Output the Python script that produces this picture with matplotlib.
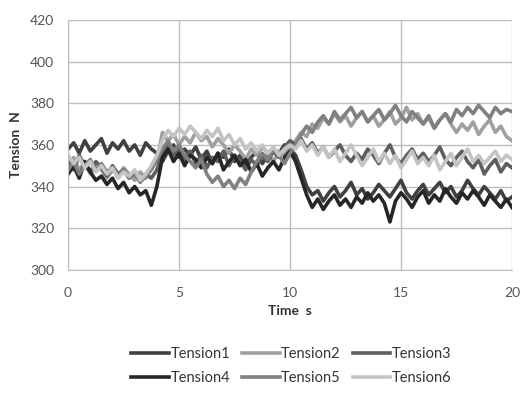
import numpy as np
import matplotlib.pyplot as plt

plt.rcParams['font.family'] = ['Lato', 'DejaVu Sans']

# time axis, 0.25 s steps
t = np.arange(0, 20.01, 0.25)

tension1 = [358, 361, 356, 362, 357, 360, 363, 356, 361, 358, 362, 357, 360, 355, 361, 358, 356,
            352, 357, 360, 354, 358, 355, 359, 353, 357, 351, 356, 354, 358, 352, 355, 350, 354, 357, 351, 355, 358, 356, 360, 358,
            355, 348, 340, 336, 338, 333, 337, 340, 335, 338, 342, 336, 339, 334, 337, 341, 338, 335, 339, 343,
            337, 334, 338, 341, 336, 339, 342, 337, 340, 335, 338, 343, 339, 336, 340, 337, 334, 338, 333, 335]
tension2 = [350, 354, 348, 352, 346, 350, 348, 344, 348, 345, 349, 346, 343, 347, 344, 349, 352,
            366, 362, 365, 360, 364, 361, 366, 362, 364, 359, 363, 360, 356, 360, 357, 353, 358, 355, 359, 356, 352, 357, 355, 359,
            362, 366, 364, 370, 368, 373, 370, 375, 371, 374, 369, 373, 376, 371, 374, 369, 372, 376, 370, 373,
            378, 372, 375, 370, 373, 368, 372, 375, 370, 366, 370, 367, 371, 365, 369, 372, 366, 369, 364, 362]
tension3 = [352, 348, 355, 350, 347, 352, 349, 345, 350, 346, 348, 344, 347, 343, 346, 344, 348,
            356, 360, 355, 358, 353, 357, 351, 355, 349, 354, 352, 357, 350, 355, 352, 348, 353, 350, 355, 352, 357, 354, 359, 362,
            360, 363, 358, 361, 356, 359, 354, 357, 360, 355, 352, 356, 353, 358, 355, 351, 356, 360, 354, 351,
            355, 358, 353, 356, 352, 355, 359, 353, 350, 354, 357, 352, 349, 353, 346, 350, 353, 347, 351, 349]
tension4 = [346, 350, 344, 352, 347, 343, 345, 341, 344, 339, 342, 337, 340, 336, 338, 331, 340,
            354, 358, 352, 356, 350, 355, 353, 349, 354, 351, 356, 348, 352, 355, 350, 353, 347, 351, 345, 349, 352, 348, 354, 357,
            352, 344, 336, 330, 334, 329, 333, 336, 331, 334, 330, 335, 332, 337, 333, 336, 332, 323, 333, 337,
            334, 330, 335, 338, 332, 336, 333, 339, 335, 332, 337, 334, 338, 335, 331, 336, 333, 330, 334, 330]
tension5 = [348, 352, 346, 350, 353, 348, 351, 347, 349, 345, 348, 344, 346, 342, 345, 348, 353,
            358, 362, 357, 360, 355, 352, 349, 353, 346, 342, 345, 340, 343, 339, 344, 341, 347, 352, 356, 353, 358, 355, 351, 356,
            360, 365, 369, 366, 371, 374, 370, 376, 372, 375, 378, 373, 376, 371, 374, 377, 372, 375, 379, 374,
            371, 376, 373, 370, 374, 368, 372, 375, 371, 377, 374, 378, 375, 379, 376, 373, 378, 375, 377, 376]
tension6 = [355, 351, 354, 349, 352, 347, 350, 346, 349, 344, 347, 345, 348, 343, 346, 350, 355,
            362, 367, 364, 368, 365, 369, 366, 363, 367, 364, 368, 362, 365, 360, 363, 358, 361, 357, 360, 356, 359, 355, 358, 360,
            358, 362, 357, 360, 355, 359, 354, 358, 352, 356, 360, 355, 350, 354, 358, 352, 356, 351, 355, 349,
            353, 357, 351, 354, 350, 355, 348, 352, 356, 350, 354, 358, 352, 355, 351, 354, 357, 352, 355, 353]

series = [tension1, tension2, tension3, tension4, tension5, tension6]
labels = ['Tension1', 'Tension2', 'Tension3', 'Tension4', 'Tension5', 'Tension6']
colors = ['#404040', '#a0a0a0', '#5e5e5e', '#262626', '#808080', '#c4c4c4']

fig = plt.figure(figsize=(5.24, 3.98), dpi=100)
ax = fig.add_axes([0.130, 0.322, 0.847, 0.628])

for y, lab, c in zip(series, labels, colors):
    ax.plot(t, y, color=c, lw=2.6, label=lab)

ax.set_xlim(0, 20)
ax.set_ylim(300, 420)
ax.set_xticks([0, 5, 10, 15, 20])
ax.set_yticks(range(300, 421, 20))
ax.grid(True, color='#bdbdbd', lw=1)
ax.set_axisbelow(True)
for s in ['top', 'right']:
    ax.spines[s].set_visible(False)
for s in ['left', 'bottom']:
    ax.spines[s].set_color('#bdbdbd')
ax.tick_params(length=0, labelsize=10, colors='#555555')
ax.tick_params(axis='x', pad=12)
ax.tick_params(axis='y', pad=10)

ax.set_xlabel('Time  s', fontsize=10, fontweight='bold', color='#333333', labelpad=5)
ax.set_ylabel('Tension  N', fontsize=10, fontweight='bold', color='#333333', labelpad=6)

# legend filled row by row like the original
h, l = ax.get_legend_handles_labels()
order = [0, 3, 1, 4, 2, 5]
ax.legend([h[i] for i in order], [l[i] for i in order],
          loc='lower center', bbox_to_anchor=(0.556, 0.0), bbox_transform=fig.transFigure,
          ncol=3, frameon=False, fontsize=10.5, handlelength=2.6, handletextpad=0.1,
          columnspacing=0.8, labelspacing=0.7, labelcolor='#333333')

plt.savefig('out.png', dpi=100)
